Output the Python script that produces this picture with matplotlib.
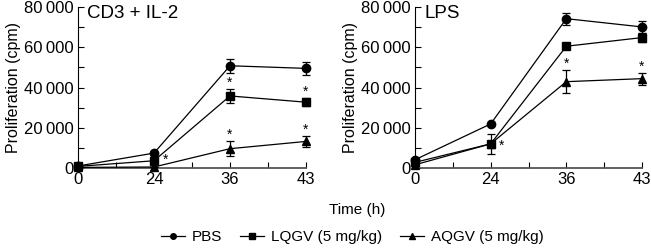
import matplotlib
matplotlib.use("Agg")
import matplotlib.pyplot as plt
from matplotlib.lines import Line2D
from matplotlib.ticker import MultipleLocator, FuncFormatter

plt.rcParams["font.family"] = ["Liberation Sans", "DejaVu Sans"]

# ---------------------------------------------------------------------------
# Data
# ---------------------------------------------------------------------------
time_labels = ["0", "24", "36", "43"]
series_names = ["PBS", "LQGV (5 mg/kg)", "AQGV (5 mg/kg)"]
series_markers = ["o", "s", "^"]

cd3_pbs = [1000, 7400, 50800, 49500]
cd3_pbs_err = [0, 0, 3500, 3200]
cd3_lqgv = [800, 3600, 35800, 32700]
cd3_lqgv_err = [0, 0, 3300, 2000]
cd3_aqgv = [300, 500, 9600, 13200]
cd3_aqgv_err = [0, 0, 3700, 2800]

lps_pbs = [4100, 21900, 74200, 70100]
lps_pbs_err = [0, 0, 3000, 2900]
lps_lqgv = [2800, 12000, 60500, 64800]
lps_lqgv_err = [0, 0, 600, 2200]
lps_aqgv = [1600, 12000, 42900, 44400]
lps_aqgv_err = [0, 5000, 5800, 3000]

# significance stars: (series index, time index, placement)
cd3_stars = [(1, 1, "right"), (1, 2, "above"), (1, 3, "above"),
             (2, 2, "above"), (2, 3, "above")]
lps_stars = [(1, 1, "right"), (2, 2, "above"), (2, 3, "above")]


def fmt_thousands(v, pos):
    v = int(round(v))
    if v == 0:
        return "0"
    return f"{v // 1000}\u2009{v % 1000:03d}"


def draw_panel(ax, title, values, errors, stars, star_dy):
    x = list(range(len(time_labels)))
    for vals, errs, mk in zip(values, errors, series_markers):
        ax.errorbar(x, vals, yerr=errs, color="black", marker=mk,
                    markersize=6, linewidth=0.9, elinewidth=0.9,
                    capsize=3, capthick=0.9, clip_on=False, zorder=3)
    for si, ti, where in stars:
        top = values[si][ti] + errors[si][ti]
        if where == "above":
            ax.annotate("*", (x[ti], top), xytext=(0, 1.5),
                        textcoords="offset points", ha="center",
                        va="baseline", fontsize=10)
        else:
            ax.annotate("*", (x[ti], values[si][ti]), xytext=(8, star_dy),
                        textcoords="offset points", ha="center",
                        va="baseline", fontsize=10)
    ax.set_xlim(0, len(time_labels) - 1)
    ax.set_ylim(0, 80000)
    ax.set_xticks(x)
    ax.set_xticklabels(time_labels)
    ax.xaxis.set_minor_locator(MultipleLocator(0.5))
    ax.yaxis.set_major_locator(MultipleLocator(20000))
    ax.yaxis.set_minor_locator(MultipleLocator(10000))
    ax.yaxis.set_major_formatter(FuncFormatter(fmt_thousands))
    ax.tick_params(which="both", direction="in", labelsize=12, width=0.8)
    ax.tick_params(which="major", length=4, pad=3)
    ax.tick_params(which="minor", length=4)
    ax.spines["top"].set_visible(False)
    ax.spines["right"].set_visible(False)
    ax.spines["left"].set_linewidth(0.8)
    ax.spines["bottom"].set_linewidth(1.3)
    ax.spines["bottom"].set_color("#555555")
    ax.set_ylabel("Proliferation (cpm)", fontsize=11.5, labelpad=2)
    ax.text(0.04, 1.01, title, transform=ax.transAxes, ha="left", va="top",
            fontsize=13.5)


fig = plt.figure(figsize=(6.51, 2.5), dpi=100)
ax1 = fig.add_axes([78 / 651, 82 / 250, 228 / 651, 161 / 250])
ax2 = fig.add_axes([415 / 651, 82 / 250, 227 / 651, 161 / 250])

draw_panel(ax1, "CD3 + IL-2", [cd3_pbs, cd3_lqgv, cd3_aqgv],
           [cd3_pbs_err, cd3_lqgv_err, cd3_aqgv_err], cd3_stars, -2)
draw_panel(ax2, "LPS", [lps_pbs, lps_lqgv, lps_aqgv],
           [lps_pbs_err, lps_lqgv_err, lps_aqgv_err], lps_stars, -4.5)

fig.text(357 / 651, 1 - 210 / 250, "Time (h)", ha="center", va="center",
         fontsize=11)

handles = [Line2D([], [], color="black", marker=mk, markersize=4,
                  linewidth=0.9) for mk in series_markers]
fig.legend(handles, series_names, loc="center", ncol=3, frameon=False,
           bbox_to_anchor=(352 / 651, 1 - 237 / 250), fontsize=11,
           handlelength=1.6, handletextpad=0.4, columnspacing=1.2)

fig.savefig("out.png", dpi=100)
